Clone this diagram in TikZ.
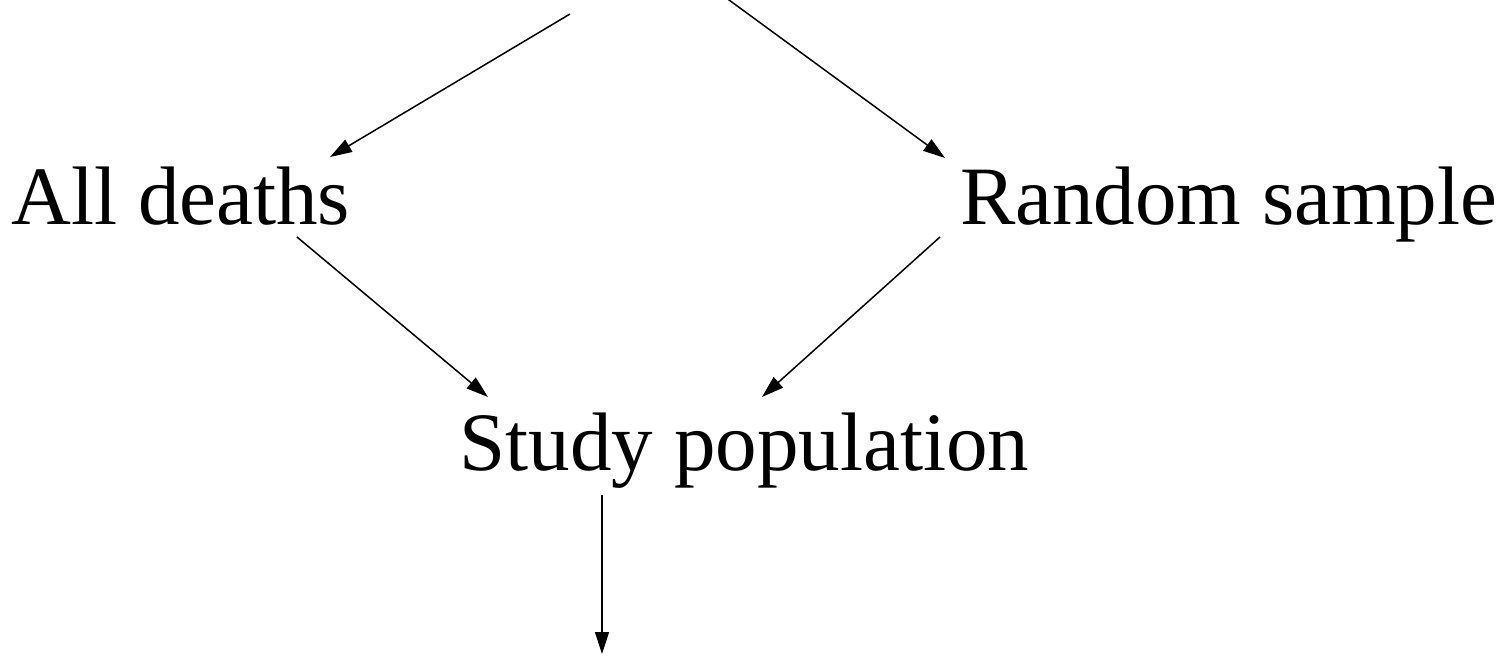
\documentclass[tikz,border=0pt]{standalone}
\usepackage{fontspec}
\setmainfont{Liberation Serif}
\usetikzlibrary{arrows.meta}
\begin{document}
\begin{tikzpicture}[x=1pt,y=-1pt,
  lbl/.style={inner sep=0pt,anchor=base west,font=\fontsize{83}{90}\selectfont},
  arr/.style={line width=1.5pt,-{Triangle[length=22pt,width=14pt]}}]
\useasboundingbox (0,0) rectangle (1512,657);
\node[lbl] (alld) at (11,224) {All deaths};
\node[lbl] (rand) at (960,224) {Random sample};
\node[lbl] (study) at (459.5,470) {Study population};
% connector end points
\coordinate (srcL) at (570,14);
\coordinate (srcR) at (714,-11);
\coordinate (alldIn) at (330,157);
\coordinate (randIn) at (945,158);
\coordinate (alldOut) at (297,237);
\coordinate (randOut) at (940,237);
\coordinate (studyInL) at (488,397);
\coordinate (studyInR) at (762,397);
\coordinate (studyOut) at (602,495);
\coordinate (next) at (602,654);
\draw[arr] (srcL) -- (alldIn);
\draw[arr] (srcR) -- (randIn);
\draw[arr] (alldOut) -- (studyInL);
\draw[arr] (randOut) -- (studyInR);
\draw[arr] (studyOut) -- (next);
\end{tikzpicture}
\end{document}
